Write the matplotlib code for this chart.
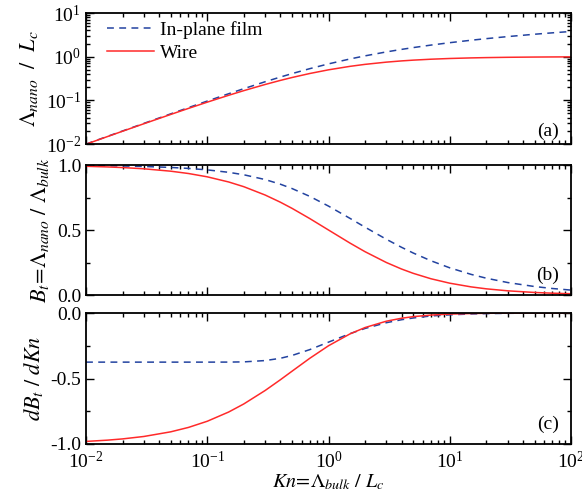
import numpy as np
import matplotlib
matplotlib.use("Agg")
import matplotlib.pyplot as plt
from matplotlib.ticker import LogLocator, MultipleLocator, NullFormatter, FuncFormatter

plt.rcParams['font.family'] = ['Liberation Serif', 'DejaVu Serif']
plt.rcParams['mathtext.fontset'] = 'stix'
plt.rcParams['font.size'] = 14

# Knudsen number samples
kn = [0.01, 0.015, 0.02, 0.03, 0.05, 0.07, 0.1, 0.15, 0.2, 0.3, 0.4, 0.5, 0.7, 1,
      1.5, 2, 3, 4, 5, 7, 10, 15, 20, 30, 50, 70, 100]

# (a) Lambda_nano / L_c
film_lam = [0.00996, 0.01492, 0.01985, 0.02966, 0.04906, 0.06816, 0.09625, 0.1416,
            0.1850, 0.2665, 0.3410, 0.4096, 0.5312, 0.6839, 0.8852, 1.0438, 1.2861,
            1.4684, 1.6150, 1.8431, 2.091, 2.380, 2.588, 2.883, 3.265, 3.514, 3.78]
wire_lam = [0.0099, 0.01478, 0.01961, 0.02913, 0.04762, 0.06542, 0.09091, 0.13043,
            0.16667, 0.23077, 0.28571, 0.33333, 0.41176, 0.5, 0.6, 0.66667, 0.75,
            0.8, 0.83333, 0.875, 0.90909, 0.9375, 0.95238, 0.96774, 0.98039, 0.98592, 0.9901]

# (b) B_t
film_b = [0.9963, 0.9944, 0.9925, 0.9888, 0.9813, 0.9738, 0.9625, 0.9438, 0.9250,
          0.8882, 0.8526, 0.8191, 0.7589, 0.6839, 0.5901, 0.5219, 0.4287, 0.3671,
          0.3230, 0.2633, 0.2091, 0.1587, 0.1294, 0.0961, 0.0653, 0.0502, 0.0378]
wire_b = [0.9901, 0.9852, 0.9804, 0.9709, 0.9524, 0.9346, 0.9091, 0.8696, 0.8333,
          0.7692, 0.7143, 0.6667, 0.5882, 0.5, 0.4, 0.3333, 0.25, 0.2, 0.1667,
          0.125, 0.0909, 0.0625, 0.0476, 0.0323, 0.0196, 0.0141, 0.0099]

# (c) dB_t / dKn
film_db = [-0.375, -0.375, -0.375, -0.375, -0.375, -0.375, -0.375, -0.3747, -0.3731,
           -0.3631, -0.3459, -0.3242, -0.2796, -0.2225, -0.1579, -0.1180, -0.0740,
           -0.0513, -0.0380, -0.0225, -0.0139, -0.0074, -0.0047, -0.0024, -0.0010,
           -0.0006, -0.0003]
wire_db = [-0.9803, -0.9707, -0.9612, -0.9426, -0.9070, -0.8734, -0.8264, -0.7561,
           -0.6944, -0.5917, -0.5102, -0.4444, -0.3460, -0.25, -0.16, -0.1111,
           -0.0625, -0.04, -0.0278, -0.0156, -0.0083, -0.0039, -0.0023, -0.0010,
           -0.0004, -0.0002, -0.0001]

blue = '#2343a0'
red = '#ff2a2a'
dash = (0, (4.5, 3.5))


def pow10(v, pos):
    e = int(round(np.log10(v)))
    return r'$\mathregular{10^{%d}}$' % e


fig = plt.figure(figsize=(5.82, 4.93), dpi=100)
left, width = 0.1478, 0.8333
ax_a = fig.add_axes([left, 0.7079, width, 0.2657])
ax_b = fig.add_axes([left, 0.4016, width, 0.2637])
ax_c = fig.add_axes([left, 0.0994, width, 0.2657])

for ax in (ax_a, ax_b, ax_c):
    ax.set_xscale('log')
    ax.set_xlim(1e-2, 1e2)
    ax.xaxis.set_major_locator(LogLocator(base=10, numticks=10))
    ax.xaxis.set_minor_locator(LogLocator(base=10, subs=np.arange(2, 10), numticks=20))
    ax.xaxis.set_major_formatter(FuncFormatter(pow10))
    ax.xaxis.set_minor_formatter(NullFormatter())
    ax.tick_params(which='both', direction='in', top=True, right=True, width=1.0)
    ax.tick_params(which='major', length=6, labelsize=14)
    ax.tick_params(which='minor', length=3)
    ax.tick_params(axis='x', pad=5)
    for s in ax.spines.values():
        s.set_linewidth(1.3)

# (a)
ax_a.plot(kn, film_lam, color=blue, ls=dash, lw=1.1, label='In-plane film')
ax_a.plot(kn, wire_lam, color=red, lw=1.1, label='Wire')
ax_a.set_yscale('log')
ax_a.set_ylim(1e-2, 1e1)
ax_a.yaxis.set_major_locator(LogLocator(base=10, numticks=10))
ax_a.yaxis.set_minor_locator(LogLocator(base=10, subs=np.arange(2, 10), numticks=20))
ax_a.yaxis.set_major_formatter(FuncFormatter(pow10))
ax_a.yaxis.set_minor_formatter(NullFormatter())
ax_a.set_xticklabels([])
ax_a.set_ylabel(r'$\Lambda_{nano}\ \ /\ \ L_c$', fontsize=16, labelpad=4)
ax_a.text(0.975, 0.1, '(a)', transform=ax_a.transAxes, ha='right', va='center', fontsize=14)
ax_a.legend(loc='upper left', frameon=False, fontsize=14, handlelength=2.4,
            handletextpad=0.3, labelspacing=0.3, borderaxespad=0.2,
            bbox_to_anchor=(0.02, 1.03))

# (b)
ax_b.plot(kn, film_b, color=blue, ls=dash, lw=1.1)
ax_b.plot(kn, wire_b, color=red, lw=1.1)
ax_b.set_ylim(0, 1)
ax_b.yaxis.set_major_locator(MultipleLocator(0.5))
ax_b.yaxis.set_minor_locator(MultipleLocator(0.25))
ax_b.yaxis.set_major_formatter(plt.FormatStrFormatter('%.1f'))
ax_b.set_xticklabels([])
ax_b.set_ylabel(r'$B_t\!=\!\Lambda_{nano}\ /\ \Lambda_{bulk}$', fontsize=16, labelpad=4)
ax_b.text(0.975, 0.15, '(b)', transform=ax_b.transAxes, ha='right', va='center', fontsize=14)

# (c)
ax_c.plot(kn, film_db, color=blue, ls=dash, lw=1.1)
ax_c.plot(kn, wire_db, color=red, lw=1.1)
ax_c.set_ylim(-1, 0)
ax_c.yaxis.set_major_locator(MultipleLocator(0.5))
ax_c.yaxis.set_minor_locator(MultipleLocator(0.25))
ax_c.yaxis.set_major_formatter(plt.FormatStrFormatter('%.1f'))
ax_c.set_ylabel(r'$dB_t\ /\ dKn$', fontsize=16, labelpad=4)
ax_c.set_xlabel(r'$Kn\!=\!\Lambda_{bulk}\ /\ L_c$', fontsize=14.5, labelpad=0)
ax_c.text(0.975, 0.15, '(c)', transform=ax_c.transAxes, ha='right', va='center', fontsize=14)

fig.align_ylabels([ax_a, ax_b, ax_c])
fig.savefig('out.png', dpi=100)
